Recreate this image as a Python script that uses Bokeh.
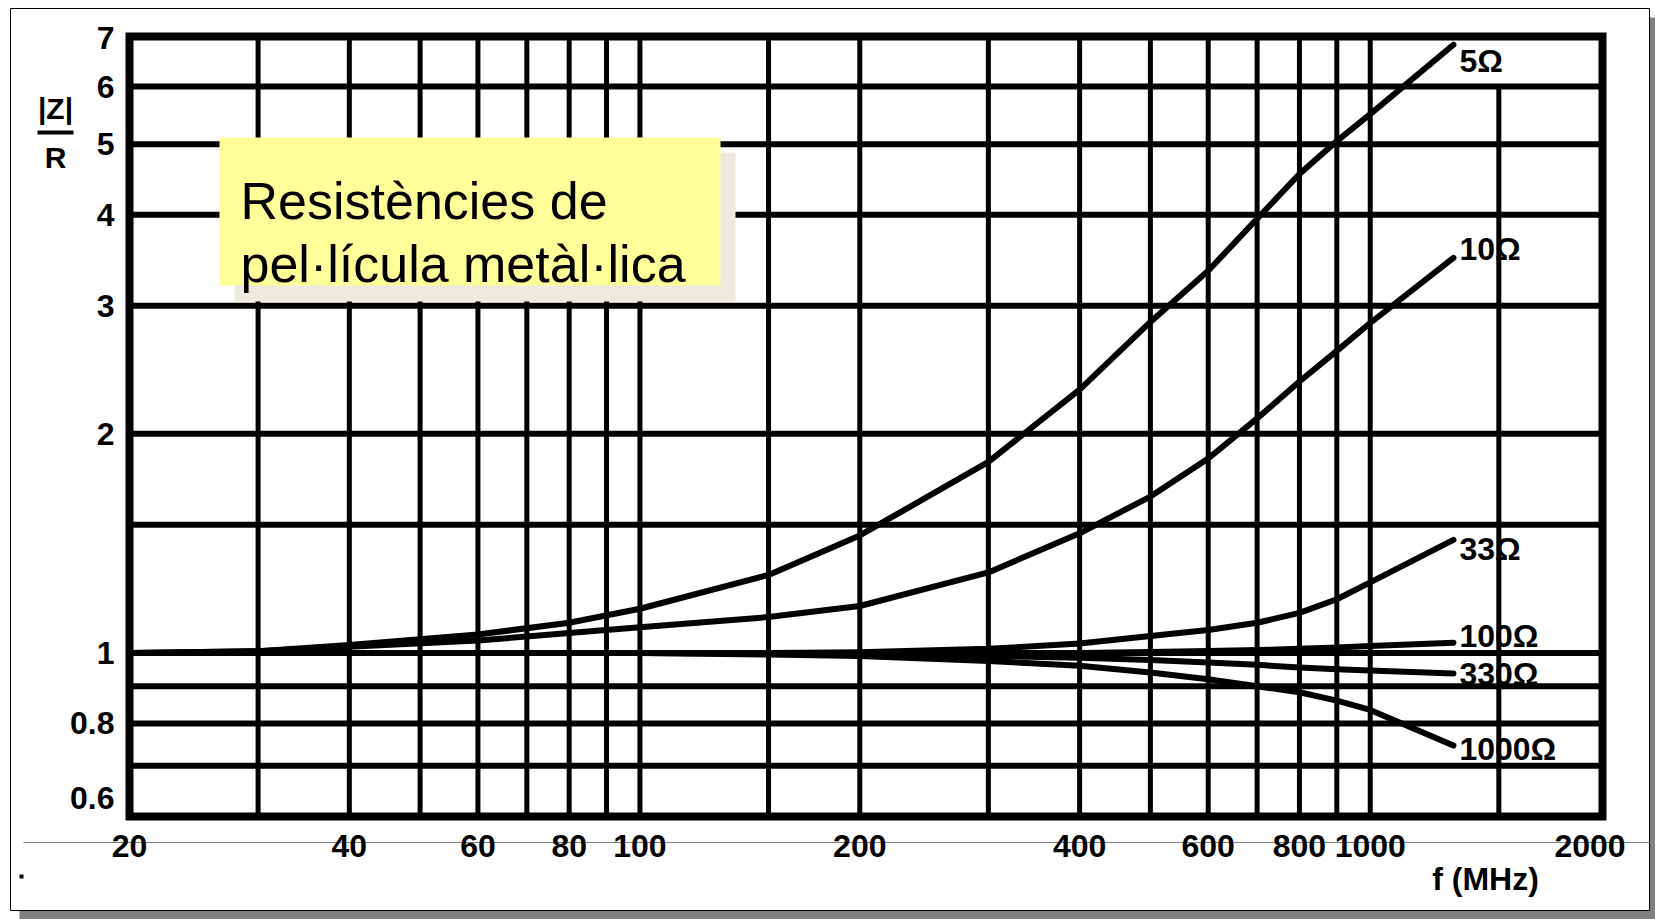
from math import log10
from bokeh.plotting import figure
from bokeh.models import Range1d, ColumnDataSource
from bokeh.core.properties import value
from bokeh.embed import file_html
from bokeh.resources import INLINE

# ---------------- data ----------------
freq_mhz = [20, 30, 40, 60, 80, 100, 150, 200, 300, 400, 500, 600, 700, 800, 900, 1000, 1300]
zr_5 = [1.0, 1.005, 1.025, 1.06, 1.10, 1.15, 1.28, 1.45, 1.83, 2.30, 2.85, 3.35, 3.95, 4.55, 5.05, 5.50, 6.85]
zr_10 = [1.0, 1.005, 1.02, 1.04, 1.065, 1.085, 1.12, 1.16, 1.29, 1.46, 1.64, 1.85, 2.10, 2.36, 2.60, 2.84, 3.49]
zr_33 = [1.0, 1.0, 1.0, 1.0, 1.0, 1.0, 1.0, 1.002, 1.013, 1.03, 1.055, 1.075, 1.10, 1.135, 1.185, 1.25, 1.43]
zr_100 = [1.0, 1.0, 1.0, 1.0, 1.0, 1.0, 1.0, 1.0, 1.0, 1.0, 1.003, 1.006, 1.009, 1.013, 1.017, 1.022, 1.033]
zr_330 = [1.0, 1.0, 1.0, 1.0, 1.0, 1.0, 0.998, 0.995, 0.99, 0.985, 0.978, 0.97, 0.963, 0.955, 0.95, 0.946, 0.937]
zr_1000 = [1.0, 1.0, 1.0, 1.0, 1.0, 1.0, 0.995, 0.99, 0.975, 0.96, 0.94, 0.92, 0.90, 0.883, 0.86, 0.835, 0.746]
curve_names = ["5Ω", "10Ω", "33Ω", "100Ω", "330Ω", "1000Ω"]

x_ticks = [20, 40, 60, 80, 100, 200, 400, 600, 800, 1000, 2000]
x_tick_labels = ["20", "40", "60", "80", "100", "200", "400", "600", "800", "1000", "2000"]
y_ticks = [0.6, 0.8, 1, 2, 3, 4, 5, 6, 7]
y_tick_labels = ["0.6", "0.8", "1", "2", "3", "4", "5", "6", "7"]
x_grid = [30, 40, 50, 60, 70, 80, 90, 100, 150, 200, 300, 400, 500, 600, 700, 800, 900, 1000]
x_grid_partial = [1500]
x_grid_partial_top = [6]
y_grid = [0.7, 0.8, 0.9, 1, 1.5, 2, 3, 4, 5, 6]
x_limits = (20, 2080)      # f (MHz) axis extent
y_limits = (0.596, 7.03)   # |Z|/R axis extent

title_lines = ["Resistències de", "pel·lícula metàl·lica"]
x_title = "f (MHz)"

# ---------------- layout (page pixels) ----------------
W, H = 1655, 919
L, R, T, B = 129, 1602, 36, 816          # chart frame
XMIN, XMAX = x_limits
YMIN, YMAX = y_limits
dx = (log10(XMAX) - log10(XMIN)) / (R - L)
dy = (log10(YMAX) - log10(YMIN)) / (B - T)


def px2x(px):
    return 10 ** (log10(XMIN) + (px - L) * dx)


def px2y(py):
    return 10 ** (log10(YMIN) + (B - py) * dy)


p = figure(width=W, height=H, x_axis_type="log", y_axis_type="log",
           x_range=Range1d(px2x(0), px2x(W)), y_range=Range1d(px2y(H), px2y(0)),
           x_axis_location=None, y_axis_location=None, title=None,
           min_border=0, output_backend="svg", toolbar_location=None)
p.min_border_left = p.min_border_right = p.min_border_top = p.min_border_bottom = 0
p.outline_line_color = None
p.background_fill_color = "white"
p.border_fill_color = "white"
for g in p.grid:
    g.visible = False

# page sheet with drop shadow
p.quad(left=[px2x(19)], right=[px2x(1670)], top=[px2y(17)], bottom=[px2y(935)],
       fill_color="#808080", line_color=None)
p.quad(left=[px2x(10)], right=[px2x(1649)], top=[px2y(8)], bottom=[px2y(910)],
       fill_color="white", line_color="black", line_width=1)

# grid
p.segment(x0=[XMIN] * len(y_grid), x1=[XMAX] * len(y_grid), y0=y_grid, y1=y_grid,
          line_color="black", line_width=6)
p.segment(x0=x_grid, x1=x_grid, y0=[YMIN] * len(x_grid), y1=[YMAX] * len(x_grid),
          line_color="black", line_width=5)
p.segment(x0=x_grid_partial, x1=x_grid_partial, y0=[YMIN] * len(x_grid_partial), y1=x_grid_partial_top,
          line_color="black", line_width=5)
# frame
p.quad(left=[XMIN], right=[XMAX], bottom=[YMIN], top=[YMAX], fill_color=None,
       line_color="black", line_width=8, line_join="miter")

# annotation box
p.quad(left=[px2x(234)], right=[px2x(735)], top=[px2y(152)], bottom=[px2y(301)],
       fill_color="#ECE9DF", line_color=None)
p.quad(left=[px2x(219)], right=[px2x(720)], top=[px2y(137)], bottom=[px2y(285)],
       fill_color="#FFFF99", line_color=None)
p.text(x=[px2x(240)] * 2, y=[px2y(200), px2y(263)], text=title_lines,
       text_font=value("Liberation Sans"), text_font_size="52px", text_color="black",
       text_baseline="alphabetic", text_align="left")

# curves
series = [zr_5, zr_10, zr_33, zr_100, zr_330, zr_1000]
for vals in series:
    p.line(freq_mhz, vals, line_color="black", line_width=6, line_join="round", line_cap="round")

LABEL_FONT = "Liberation Sans"
label_dy = [16, -9, 9, -7, 1, 3]
src = ColumnDataSource(dict(x=[freq_mhz[-1]] * len(series), y=[s[-1] for s in series],
                            text=curve_names, dy=label_dy))
p.text(x="x", y="y", text="text", y_offset="dy", x_offset=6, source=src,
       text_font=value(LABEL_FONT), text_font_style="bold", text_font_size="32px",
       text_baseline="middle", text_align="left", text_color="black")

# thin scan line and speck
p.segment(x0=[px2x(23)], x1=[px2x(1649)], y0=[px2y(842)], y1=[px2y(842)],
          line_color="#808080", line_width=1)
p.quad(left=[px2x(19)], right=[px2x(23)], top=[px2y(874)], bottom=[px2y(878)],
       fill_color="black", line_color=None)

# tick labels
p.text(x=x_ticks, y=[px2y(845)] * len(x_ticks), text=x_tick_labels,
       text_font=value(LABEL_FONT), text_font_style="bold", text_font_size="32px",
       text_baseline="middle", text_align="center", text_color="black")
y_label_dy = [-16, 0, 0, 0, 0, 0, 0, 0, 0]
ysrc = ColumnDataSource(dict(x=[px2x(114)] * len(y_ticks), y=y_ticks, text=y_tick_labels, dy=y_label_dy))
p.text(x="x", y="y", text="text", y_offset="dy", source=ysrc,
       text_font=value(LABEL_FONT), text_font_style="bold", text_font_size="32px",
       text_baseline="middle", text_align="right", text_color="black")

# axis titles
p.text(x=[px2x(55), px2x(55)], y=[px2y(108), px2y(157)], text=["|Z|", "R"],
       text_font=value(LABEL_FONT), text_font_style="bold", text_font_size="30px",
       text_baseline="middle", text_align="center", text_color="black")
p.quad(left=[px2x(37)], right=[px2x(73)], top=[px2y(130)], bottom=[px2y(134)],
       fill_color="black", line_color=None)
p.text(x=[px2x(1485)], y=[px2y(878)], text=[x_title],
       text_font=value(LABEL_FONT), text_font_style="bold", text_font_size="32px",
       text_baseline="middle", text_align="center", text_color="black")

open("out.html", "w").write(file_html(p, INLINE))
